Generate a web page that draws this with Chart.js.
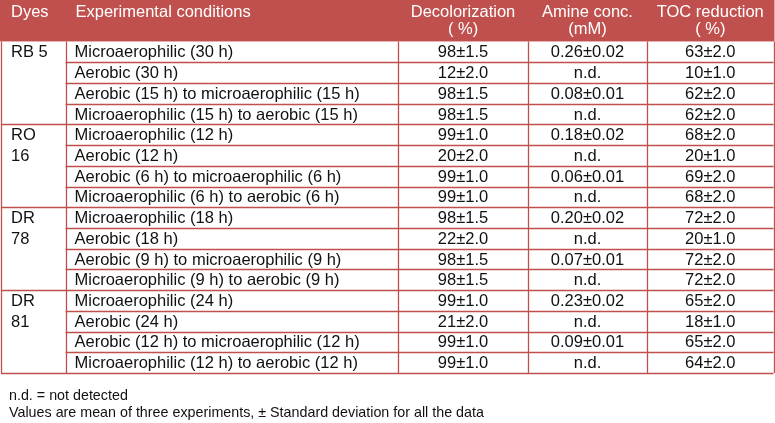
<!DOCTYPE html>
<html>
<head>
<meta charset="utf-8">
<script src="https://cdn.jsdelivr.net/npm/chart.js@4.4.0/dist/chart.umd.min.js"></script>
<style>
  html, body { margin: 0; padding: 0; background: #fff; }
  #wrap { width: 775px; height: 423px; }
</style>
</head>
<body>
<div id="wrap"><canvas id="tabla" width="775" height="423"></canvas></div>
<script>
// table content
const headers = ["Dyes", "Experimental conditions", ["Decolorization", "( %)"], ["Amine conc.", "(mM)"], ["TOC reduction", "( %)"]];
const dyes = [["RB 5"], ["RO", "16"], ["DR", "78"], ["DR", "81"]];
const conditions = [
    "Microaerophilic (30 h)", "Aerobic (30 h)", "Aerobic (15 h) to microaerophilic (15 h)", "Microaerophilic (15 h) to aerobic (15 h)",
    "Microaerophilic (12 h)", "Aerobic (12 h)", "Aerobic (6 h) to microaerophilic (6 h)", "Microaerophilic (6 h) to aerobic (6 h)",
    "Microaerophilic (18 h)", "Aerobic (18 h)", "Aerobic (9 h) to microaerophilic (9 h)", "Microaerophilic (9 h) to aerobic (9 h)",
    "Microaerophilic (24 h)", "Aerobic (24 h)", "Aerobic (12 h) to microaerophilic (12 h)", "Microaerophilic (12 h) to aerobic (12 h)"
];
const decolorization = ["98±1.5", "12±2.0", "98±1.5", "98±1.5", "99±1.0", "20±2.0", "99±1.0", "99±1.0",
    "98±1.5", "22±2.0", "98±1.5", "98±1.5", "99±1.0", "21±2.0", "99±1.0", "99±1.0"];
const amine = ["0.26±0.02", "n.d.", "0.08±0.01", "n.d.", "0.18±0.02", "n.d.", "0.06±0.01", "n.d.",
    "0.20±0.02", "n.d.", "0.07±0.01", "n.d.", "0.23±0.02", "n.d.", "0.09±0.01", "n.d."];
const tocReduction = ["63±2.0", "10±1.0", "62±2.0", "62±2.0", "68±2.0", "20±1.0", "69±2.0", "68±2.0",
    "72±2.0", "20±1.0", "72±2.0", "72±2.0", "65±2.0", "18±1.0", "65±2.0", "64±2.0"];
const footnotes = ["n.d. = not detected", "Values are mean of three experiments, ± Standard deviation for all the data"];

// layout
const colEdges = [1, 65.5, 398, 528, 647, 773.5];
const headerRows = 2;
const rowsPerDye = 4;
const red = "#C0504D";
const fontFamily = "'Liberation Sans', Arial, sans-serif";

const tablePlugin = {
    id: "tablePlugin",
    afterDraw(chart) {
        const ctx = chart.ctx;
        const xs = chart.scales.x;
        const ys = chart.scales.y;
        const X = v => xs.getPixelForValue(v);
        const Y = v => ys.getPixelForValue(v);
        const nRows = conditions.length;
        const top = Y(0), headBottom = Y(headerRows), bottom = Y(headerRows + nRows);
        const left = X(colEdges[0]), right = X(colEdges[colEdges.length - 1]);

        ctx.save();
        // header band
        ctx.fillStyle = red;
        ctx.fillRect(left - 1, top, right - left + 2, headBottom - top);

        // grid lines
        ctx.strokeStyle = red;
        ctx.lineWidth = 1.3;
        ctx.beginPath();
        for (let i = 1; i <= nRows; i++) {
            const y = Math.round(Y(headerRows + i)) + 0.5;
            const x0 = (i % rowsPerDye === 0) ? left : X(colEdges[1]);
            ctx.moveTo(x0, y);
            ctx.lineTo(right, y);
        }
        colEdges.forEach(c => {
            const x = Math.round(X(c)) + 0.5;
            ctx.moveTo(x, headBottom);
            ctx.lineTo(x, bottom);
        });
        ctx.stroke();

        // header text
        ctx.fillStyle = "#ffffff";
        ctx.font = "16.5px " + fontFamily;
        ctx.textBaseline = "middle";
        headers.forEach((h, c) => {
            if (Array.isArray(h)) {
                ctx.textAlign = "center";
                const cx = (X(colEdges[c]) + X(colEdges[c + 1])) / 2;
                ctx.fillText(h[0], cx, Y(0.58));
                ctx.fillText(h[1], cx, Y(1.42));
            } else {
                ctx.textAlign = "left";
                ctx.fillText(h, X(colEdges[c]) + 10, Y(0.58));
            }
        });

        // body text
        ctx.fillStyle = "#111111";
        dyes.forEach((d, g) => {
            ctx.textAlign = "left";
            d.forEach((line, k) => {
                ctx.fillText(line, X(colEdges[0]) + 10, Y(headerRows + g * rowsPerDye + k + 0.55));
            });
        });
        const cols = [conditions, decolorization, amine, tocReduction];
        cols.forEach((arr, j) => {
            const c = j + 1;
            arr.forEach((txt, i) => {
                const y = Y(headerRows + i + 0.55);
                if (c === 1) {
                    ctx.textAlign = "left";
                    ctx.fillText(txt, X(colEdges[1]) + 9, y);
                } else {
                    ctx.textAlign = "center";
                    ctx.fillText(txt, (X(colEdges[c]) + X(colEdges[c + 1])) / 2, y);
                }
            });
        });

        // footnotes
        ctx.textAlign = "left";
        ctx.font = "14.3px " + fontFamily;
        footnotes.forEach((f, k) => {
            ctx.fillText(f, X(9), Y(headerRows + nRows + 1.1 + k * 0.85));
        });
        ctx.restore();
    }
};

new Chart(document.getElementById("tabla"), {
    type: "scatter",
    data: { datasets: [{ data: [], pointRadius: 0 }] },
    options: {
        responsive: false,
        animation: false,
        layout: { padding: 0 },
        plugins: { legend: { display: false }, tooltip: { enabled: false } },
        scales: {
            x: { type: "linear", min: 0, max: 775, display: false },
            y: { type: "linear", min: 0, max: 423 / (373 / 18), reverse: true, display: false }
        }
    },
    plugins: [tablePlugin]
});
</script>
</body>
</html>
